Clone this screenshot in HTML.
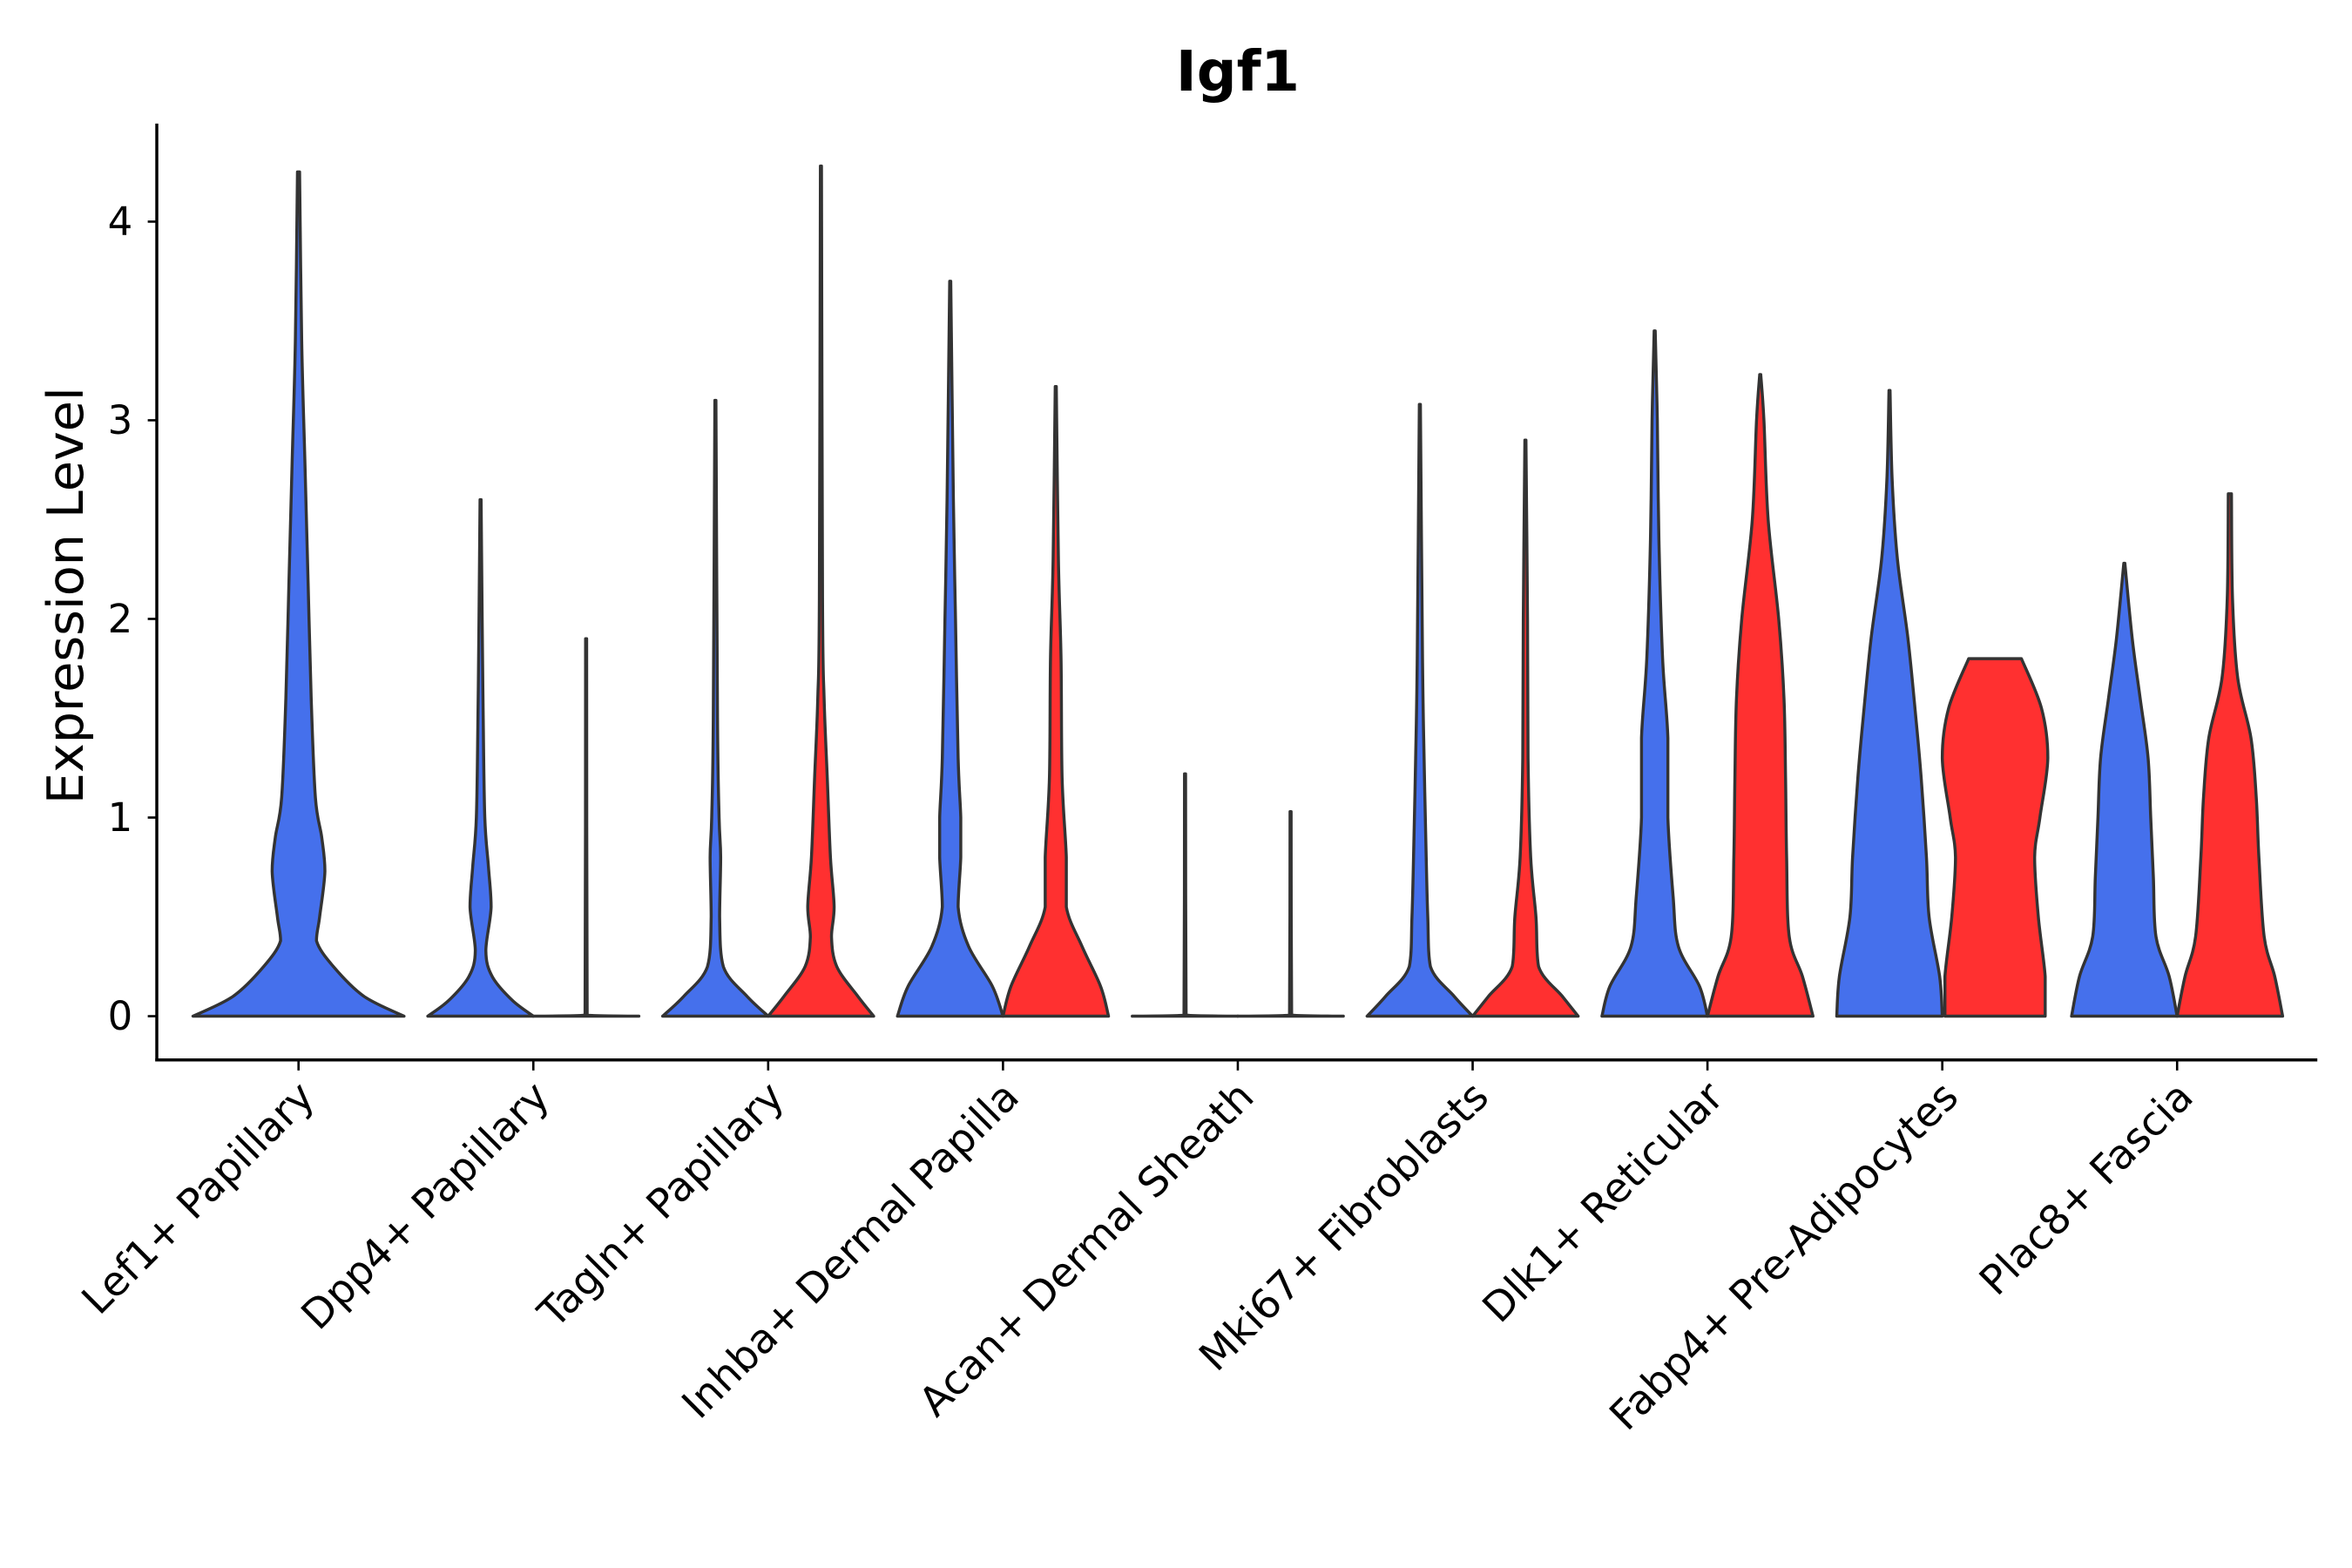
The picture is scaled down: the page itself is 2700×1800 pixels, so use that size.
<!DOCTYPE html>
<html><head><meta charset="utf-8">
<style>
html,body{margin:0;padding:0;background:#fff;}
svg{display:block;font-family:"DejaVu Sans","Liberation Sans",sans-serif;}
</style></head>
<body>
<svg id="chart" width="2700" height="1800" viewBox="0 0 1560 1040" xmlns="http://www.w3.org/2000/svg">
<rect width="1560" height="1040" fill="#fff"/>
<text x="821" y="60" text-anchor="middle" font-size="37" font-weight="bold">Igf1</text>
<text transform="translate(55,395) rotate(-90)" text-anchor="middle" font-size="33">Expression Level</text>
<g id="marks"></g>
<g id="axes"></g>
</svg>
<script>
const categories = ["Lef1+ Papillary","Dpp4+ Papillary","Tagln+ Papillary","Inhba+ Dermal Papilla","Acan+ Dermal Sheath","Mki67+ Fibroblasts","Dlk1+ Reticular","Fabp4+ Pre-Adipocytes","Plac8+ Fascia"];
const yTicks = [0,1,2,3,4];
// each violin profile: [expression level, relative half-width]
const blueProfiles = [
 [[0,1],[0.1,0.62],[0.25,0.33],[0.38,0.17],[0.5,0.2],[0.73,0.25],[0.9,0.22],[1.1,0.16],[1.6,0.12],[2.2,0.09],[2.8,0.06],[3.4,0.03],[4.25,0.01]],
 [[0,1],[0.08,0.6],[0.2,0.22],[0.33,0.1],[0.55,0.2],[0.75,0.15],[1.0,0.08],[1.5,0.05],[2.0,0.03],[2.6,0.01]],
 [[0,1],[0.1,0.6],[0.25,0.15],[0.5,0.08],[0.8,0.1],[1.0,0.07],[1.5,0.04],[3.1,0.01]],
 [[0,1],[0.15,0.8],[0.35,0.35],[0.55,0.15],[0.8,0.2],[1.0,0.2],[1.3,0.15],[2.0,0.1],[2.6,0.06],[3.7,0.01]],
 [[0,1],[0.005,0.02],[1.22,0.01]],
 [[0,1],[0.1,0.65],[0.25,0.2],[0.5,0.15],[0.8,0.12],[1.3,0.08],[1.8,0.05],[3.08,0.01]],
 [[0,1],[0.15,0.85],[0.35,0.45],[0.6,0.35],[1.0,0.25],[1.4,0.25],[1.8,0.15],[2.4,0.08],[3.0,0.05],[3.45,0.01]],
 [[0,1],[0.2,0.95],[0.5,0.75],[0.8,0.7],[1.2,0.6],[1.5,0.5],[1.9,0.35],[2.3,0.15],[2.7,0.05],[3.15,0.01]],
 [[0,1],[0.2,0.85],[0.4,0.6],[0.7,0.55],[1.0,0.5],[1.3,0.45],[1.6,0.3],[1.9,0.15],[2.28,0.01]]
];
const redProfiles = [
 null,
 [[0,1],[0.005,0.02],[1.9,0.01]],
 [[0,1],[0.1,0.7],[0.25,0.3],[0.4,0.2],[0.55,0.25],[0.8,0.18],[1.2,0.12],[1.6,0.06],[2.1,0.03],[4.28,0.01]],
 [[0,1],[0.15,0.85],[0.35,0.5],[0.55,0.2],[0.8,0.2],[1.2,0.12],[1.8,0.1],[2.3,0.05],[3.17,0.01]],
 [[0,1],[0.005,0.02],[1.03,0.01]],
 [[0,1],[0.1,0.7],[0.25,0.25],[0.5,0.2],[0.8,0.1],[1.3,0.05],[2.0,0.04],[2.9,0.01]],
 [[0,1],[0.2,0.8],[0.4,0.55],[0.8,0.5],[1.2,0.48],[1.6,0.45],[2.0,0.35],[2.5,0.15],[3.0,0.07],[3.23,0.01]],
 [[0,0.95],[0.2,0.95],[0.5,0.82],[0.8,0.75],[1.0,0.85],[1.3,1.0],[1.55,0.88],[1.8,0.5]],
 [[0,1],[0.2,0.85],[0.4,0.65],[0.8,0.55],[1.1,0.5],[1.4,0.4],[1.7,0.15],[2.1,0.05],[2.63,0.03]]
];
const NS="http://www.w3.org/2000/svg";
const X0=104, X1=1537, Y0top=82, Ybot=703;
const step=155.75, firstX=198;
function xScale(i){return firstX+i*step;}
function yScale(v){return 674-v*131.75;}
const marks=document.getElementById('marks'), axes=document.getElementById('axes');
function mk(tag,attrs,parent){const e=document.createElementNS(NS,tag);for(const k in attrs)e.setAttribute(k,attrs[k]);parent.appendChild(e);return e;}
function clamp(v,a,b){const lo=Math.min(a,b),hi=Math.max(a,b);return Math.max(lo,Math.min(hi,v));}
function smooth(pts){
  let d="";
  for(let i=0;i<pts.length-1;i++){
    const p0=pts[Math.max(0,i-1)],p1=pts[i],p2=pts[i+1],p3=pts[Math.min(pts.length-1,i+2)];
    const c1=[clamp(p1[0]+(p2[0]-p0[0])/6,p1[0],p2[0]),clamp(p1[1]+(p2[1]-p0[1])/6,p1[1],p2[1])];
    const c2=[clamp(p2[0]-(p3[0]-p1[0])/6,p1[0],p2[0]),clamp(p2[1]-(p3[1]-p1[1])/6,p1[1],p2[1])];
    d+=" C"+c1[0].toFixed(2)+","+c1[1].toFixed(2)+" "+c2[0].toFixed(2)+","+c2[1].toFixed(2)+" "+p2[0].toFixed(2)+","+p2[1].toFixed(2);
  }
  return d;
}
function violin(prof,cx,hw,color,name){
  const right=prof.map(p=>[cx+p[1]*hw,yScale(p[0])]);
  const left=prof.slice().reverse().map(p=>[cx-p[1]*hw,yScale(p[0])]);
  let d="M"+right[0][0].toFixed(2)+","+right[0][1].toFixed(2)+smooth(right)+" L"+left[0][0].toFixed(2)+","+left[0][1].toFixed(2)+smooth(left)+" Z";
  const p=mk('path',{d:d,fill:color,stroke:'#333','stroke-width':2,'stroke-linejoin':'round'},marks);
  
  
}
categories.forEach((c,i)=>{
  const cx=xScale(i);
  if(redProfiles[i]===null){
    violin(blueProfiles[i],cx,70,'#4570EC','violin-blue-'+i);
  } else {
    violin(blueProfiles[i],cx-35,35,'#4570EC','violin-blue-'+i);
    violin(redProfiles[i],cx+35,35,'#FF3030','violin-red-'+i);
  }
});
const ya=mk('line',{x1:X0,y1:Y0top,x2:X0,y2:Ybot+1,stroke:'#000','stroke-width':2},axes);


const xa=mk('line',{x1:X0-1,y1:Ybot,x2:X1,y2:Ybot,stroke:'#000','stroke-width':2},axes);


yTicks.forEach(t=>{
  const y=yScale(t);
  const l=mk('line',{x1:X0-6,y1:y,x2:X0,y2:y,stroke:'#000','stroke-width':1.5},axes);
  
  
  const tx=mk('text',{x:X0-16,y:y+9,'text-anchor':'end','font-size':26},axes);
  tx.textContent=t;
  
  
});
categories.forEach((c,i)=>{
  const x=xScale(i);
  const l=mk('line',{x1:x,y1:Ybot,x2:x,y2:Ybot+7,stroke:'#000','stroke-width':1.5},axes);
  
  
  const tx=mk('text',{transform:'translate('+(x+12)+','+(Ybot+26)+') rotate(-45)','text-anchor':'end','font-size':27},axes);
  tx.textContent=c;
  
  
});
</script>
</body></html>
